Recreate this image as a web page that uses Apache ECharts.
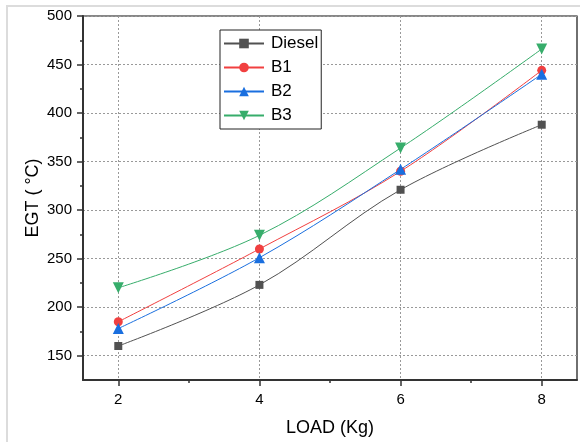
<!DOCTYPE html>
<html><head><meta charset="utf-8">
<script src="https://cdn.jsdelivr.net/npm/echarts@6/dist/echarts.min.js"></script>
<style>html,body{margin:0;padding:0;background:#fff}#c{width:580px;height:442px}</style>
</head><body><div id="c"></div>
<script>
const loads = [2, 4, 6, 8];
const seriesNames = ['Diesel', 'B1', 'B2', 'B3'];
const diesel = [160, 223, 321, 388];
const b1 = [185, 260, 340, 444];
const b2 = [178, 251, 342, 440];
const b3 = [220, 274, 364, 466];
const xMajorTicks = [2, 4, 6, 8];
const xMinorTicks = [3, 5, 7];
const yMajorTicks = [150, 200, 250, 300, 350, 400, 450, 500];
const yMinorTicks = [175, 225, 275, 325, 375, 425, 475];

const FONT = 'Liberation Sans, Arial, sans-serif';
const colors = ['#515151', '#F14040', '#1A6FDF', '#37AD6B'];
const symbols = ['rect', 'circle', 'triangle', 'triangle'];
const symbolSizes = [8, 9, 11, 11];
const rotates = [0, 0, 0, 180];
const allData = [diesel, b1, b2, b3];

const gridRect = {left: 83, right: 3, top: 16, bottom: 62};
const chart = echarts.init(document.getElementById('c'), null, {renderer: 'canvas'});

const series = seriesNames.map((n, i) => ({
  name: n, type: 'line', xAxisIndex: 0, yAxisIndex: 0,
  data: loads.map((x, j) => [x, allData[i][j]]),
  smooth: 0.35,
  symbol: symbols[i], symbolSize: symbolSizes[i], symbolRotate: rotates[i],
  itemStyle: {color: colors[i]},
  lineStyle: {color: colors[i], width: 1},
  emphasis: {disabled: true},
  animation: false
}));

chart.setOption({
  animation: false,
  backgroundColor: '#fff',
  textStyle: {fontFamily: FONT},
  graphic: [{
    type: 'rect', shape: {x: 7, y: 6, width: 620, height: 480},
    style: {fill: 'none', stroke: '#dcdcdc', lineWidth: 2}, silent: true, z: -10
  }],
  grid: [
    Object.assign({show: true, borderColor: '#111', borderWidth: 1.2, backgroundColor: 'transparent', outerBoundsMode: 'none'}, gridRect),
    Object.assign({show: false, outerBoundsMode: 'none'}, gridRect)
  ],
  legend: {
    left: 220, top: 30, orient: 'vertical',
    data: seriesNames,
    itemWidth: 40, itemHeight: 12, itemGap: 7,
    padding: [5, 3, 5, 3],
    borderColor: '#222', borderWidth: 1, backgroundColor: '#fff',
    textStyle: {fontSize: 17, color: '#000', fontFamily: FONT, lineHeight: 16, padding: [0, 0, 0, 2]}
  },
  xAxis: [{
    type: 'value', gridIndex: 0, min: 1.5, max: 8.5, splitNumber: 3,
    name: 'LOAD (Kg)', nameLocation: 'middle', nameGap: 39, nameMoveOverlap: false,
    nameTextStyle: {fontSize: 18, color: '#000', fontFamily: FONT},
    axisLine: {show: true, onZero: false, lineStyle: {color: '#333', width: 2}},
    axisTick: {show: true, customValues: xMajorTicks, length: 6, lineStyle: {color: '#333', width: 1.5}},
    axisLabel: {customValues: xMajorTicks, fontSize: 15, color: '#000', margin: 12, fontFamily: FONT},
    splitLine: {show: true, lineStyle: {color: '#999', type: [2, 2], width: 1}}
  }, {
    type: 'value', gridIndex: 1, min: 1.5, max: 8.5, position: 'bottom',
    axisLine: {show: false},
    axisTick: {show: true, customValues: xMinorTicks, length: 3, lineStyle: {color: '#333', width: 1.5}},
    axisLabel: {show: false},
    splitLine: {show: false}
  }],
  yAxis: [{
    type: 'value', gridIndex: 0, min: 125, max: 500, splitNumber: 7,
    name: 'EGT ( °C)', nameLocation: 'middle', nameGap: 41, nameRotate: 90, nameMoveOverlap: false,
    nameTextStyle: {fontSize: 18, color: '#000', fontFamily: FONT},
    axisLine: {show: true, onZero: false, lineStyle: {color: '#333', width: 2}},
    axisTick: {show: true, customValues: yMajorTicks, length: 6, lineStyle: {color: '#333', width: 1.5}},
    axisLabel: {customValues: yMajorTicks, fontSize: 15, color: '#000', margin: 11, fontFamily: FONT},
    splitLine: {show: true, lineStyle: {color: '#999', type: [2, 2], width: 1}}
  }, {
    type: 'value', gridIndex: 1, min: 125, max: 500, position: 'left',
    axisLine: {show: false},
    axisTick: {show: true, customValues: yMinorTicks, length: 3, lineStyle: {color: '#333', width: 1.5}},
    axisLabel: {show: false},
    splitLine: {show: false}
  }],
  series: series
});
</script></body></html>
